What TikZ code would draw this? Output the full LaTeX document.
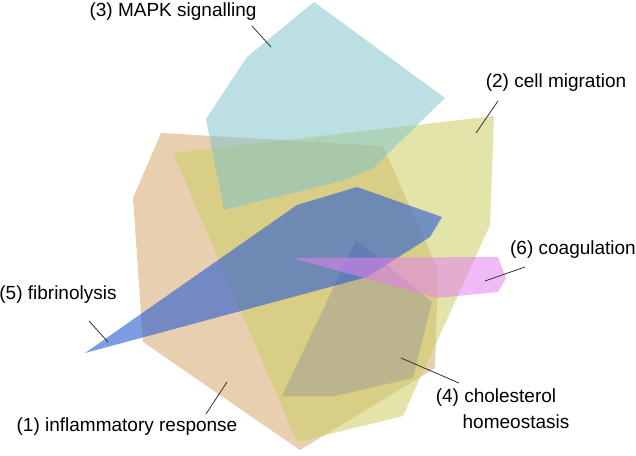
\documentclass[tikz,border=0pt]{standalone}
\usepackage{fontspec}
\setmainfont{Liberation Sans}
\definecolor{cInf}{RGB}{212,168,112}
\definecolor{cMig}{RGB}{204,206,100}
\definecolor{cMapk}{RGB}{132,196,202}
\definecolor{cChol}{RGB}{160,154,148}
\definecolor{cFib}{RGB}{40,90,210}
\definecolor{cCoag}{RGB}{228,128,240}
\begin{document}
\begin{tikzpicture}[x=1pt,y=-1pt,
  region/.style={draw=none,fill opacity=0.55},
  lab/.style={font=\fontsize{19}{22}\selectfont,inner sep=0pt,text=black},
  leader/.style={draw=black!80,line width=0.8pt}]
\useasboundingbox (0,0) rectangle (636,455);
% (1) inflammatory response
\fill[region,fill=cInf] (161,133) -- (383,146) -- (438,270) -- (435,368) -- (300,450) -- (143,342) -- (133,198) -- cycle;
% (2) cell migration
\fill[region,fill=cMig] (173,153) -- (494,116) -- (490,225) -- (403,416) -- (297,442) -- cycle;
% (3) MAPK signalling
\fill[region,fill=cMapk] (314,2) -- (445,98) -- (373,168) -- (345,180) -- (224,210) -- (206,119) -- (247,57) -- cycle;
% (4) cholesterol homeostasis
\fill[region,fill=cChol,fill opacity=0.5] (356,240) -- (432,302) -- (413,378) -- (335,396) -- (282,396) -- cycle;
% (5) fibrinolysis
\fill[region,fill=cFib,fill opacity=0.6] (85,353) -- (297,205) -- (357,187) -- (442,217) -- (430,237) -- (367,277) -- cycle;
% (6) coagulation
\fill[region,fill=cCoag] (292,258) -- (498,257) -- (506,278) -- (498,292) -- (437,298) -- cycle;
% labels
\node[lab] (l3) at (173,12) {(3) MAPK signalling};
\node[lab] (l2) at (556,83) {(2) cell migration};
\node[lab] (l6) at (573,250) {(6) coagulation};
\node[lab] (l5) at (58,295) {(5) fibrinolysis};
\node[lab] (l1) at (127,427) {(1) inflammatory response};
\node[lab] (l4a) at (496,398) {(4) cholesterol};
\node[lab] (l4b) at (516,422) {homeostasis};
% leader lines
\coordinate (a3) at (252,26); \coordinate (b3) at (271,47);
\coordinate (a2) at (498,101); \coordinate (b2) at (476,133);
\coordinate (a6) at (525,267); \coordinate (b6) at (485,281);
\coordinate (a5) at (89,321); \coordinate (b5) at (108,342);
\coordinate (a1) at (206,414); \coordinate (b1) at (227,382);
\coordinate (a4) at (459,383); \coordinate (b4) at (401,358);
\draw[leader] (a3) -- (b3);
\draw[leader] (a2) -- (b2);
\draw[leader] (a6) -- (b6);
\draw[leader] (a5) -- (b5);
\draw[leader] (a1) -- (b1);
\draw[leader] (a4) -- (b4);
\end{tikzpicture}
\end{document}
